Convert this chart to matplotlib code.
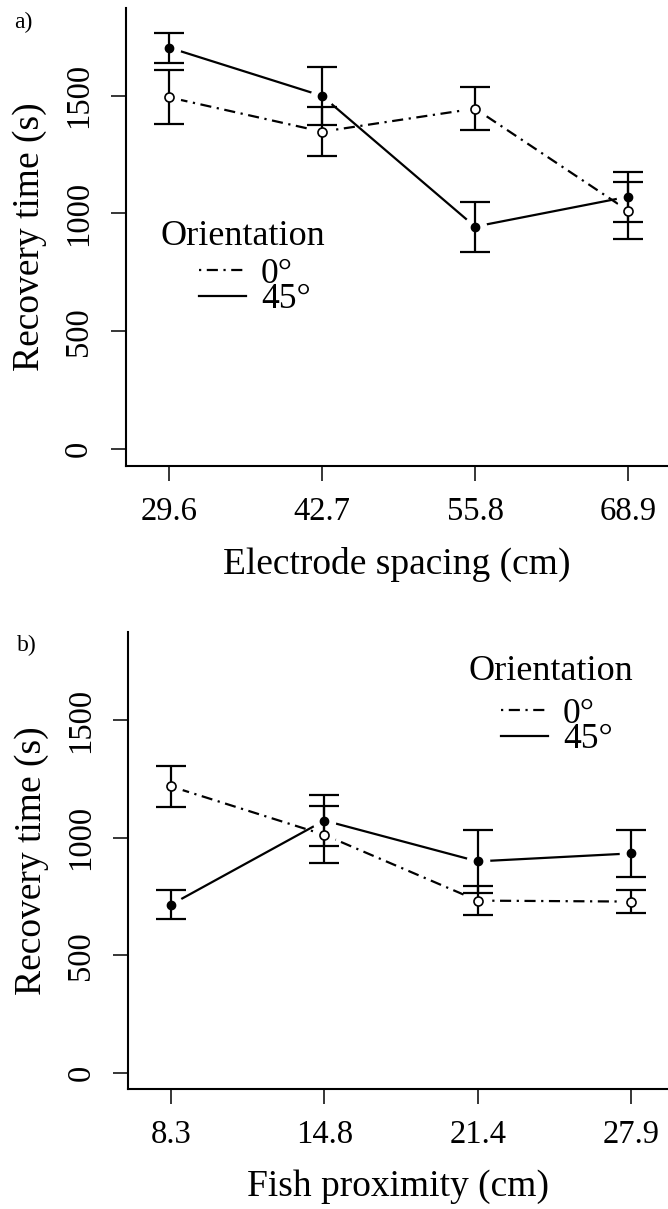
import matplotlib
matplotlib.use("Agg")
import matplotlib.pyplot as plt
from matplotlib.lines import Line2D

plt.rcParams['font.family'] = ['Liberation Serif', 'DejaVu Serif']

# ---- data ----
spacing_labels = ["29.6", "42.7", "55.8", "68.9"]
spacing_0_mean = [1493, 1347, 1445, 1012]
spacing_0_err = [114, 105, 92, 120]
spacing_45_mean = [1704, 1499, 944, 1071]
spacing_45_err = [64, 124, 106, 107]

prox_labels = ["8.3", "14.8", "21.4", "27.9"]
prox_0_mean = [1219, 1013, 733, 729]
prox_0_err = [89, 121, 63, 49]
prox_45_mean = [716, 1074, 900, 934]
prox_45_err = [61, 107, 134, 99]

yticks = [0, 500, 1000, 1500]

W, H = 668, 1209
fig = plt.figure(figsize=(W / 100, H / 100), dpi=100)

LW = 1.6
dashdot = (0, (1, 2.5, 5, 2.5))


def panel(rect, xlim, ylim, labels, m0, e0, m45, e45, xlabel, legend_anchor, title_pos):
    ax = fig.add_axes(rect)
    x = list(range(1, len(labels) + 1))
    # lines
    ax.plot(x, m0, color='black', lw=LW, linestyle=dashdot, zorder=1)
    ax.plot(x, m45, color='black', lw=LW, linestyle='-', zorder=1)
    # gaps around points (R type="b")
    ax.plot(x, m0, linestyle='none', marker='o', ms=17, mfc='white', mec='none', zorder=2)
    ax.plot(x, m45, linestyle='none', marker='o', ms=17, mfc='white', mec='none', zorder=2)
    # error bars
    ax.errorbar(x, m0, yerr=e0, fmt='none', ecolor='black', elinewidth=LW,
                capsize=11, capthick=LW, zorder=3)
    ax.errorbar(x, m45, yerr=e45, fmt='none', ecolor='black', elinewidth=LW,
                capsize=11, capthick=LW, zorder=3)
    # points
    ax.plot(x, m0, linestyle='none', marker='o', ms=6.5, mfc='white', mec='black',
            mew=1.2, zorder=4)
    ax.plot(x, m45, linestyle='none', marker='o', ms=6, mfc='black', mec='black',
            zorder=4)

    ax.set_xlim(*xlim)
    ax.set_ylim(*ylim)
    ax.set_xticks(x)
    ax.set_xticklabels(labels)
    ax.set_yticks(yticks)
    ax.set_yticklabels([str(v) for v in yticks], rotation=90, va='center')
    for s in ['top', 'right']:
        ax.spines[s].set_visible(False)
    for s in ['left', 'bottom']:
        ax.spines[s].set_linewidth(1.5)
    ax.tick_params(axis='both', direction='out', length=11, width=1.1,
                   labelsize=23.5)
    ax.tick_params(axis='x', pad=11)
    ax.tick_params(axis='y', pad=12)
    ax.set_xlabel(xlabel, fontsize=27, labelpad=14)
    ax.set_ylabel("Recovery time (s)", fontsize=27, labelpad=12)

    handles = [Line2D([], [], color='black', lw=LW, linestyle=dashdot),
               Line2D([], [], color='black', lw=LW, linestyle='-')]
    ax.legend(handles, ["0°", "45°"], frameon=False,
              fontsize=25.5, handlelength=1.33,
              handletextpad=0.42, labelspacing=-0.2,
              loc='center left', bbox_to_anchor=legend_anchor,
              bbox_transform=fig.transFigure, borderpad=0, borderaxespad=0)
    fig.text(title_pos[0], title_pos[1], "Orientation", fontsize=26,
             ha='left', va='baseline')
    return ax


axa = panel([126 / W, 1 - 466 / H, (W - 126) / W, 458 / H], (0.719, 4.261), (-72, 1872),
            spacing_labels, spacing_0_mean, spacing_0_err, spacing_45_mean, spacing_45_err,
            "Electrode spacing (cm)", (199 / W, 1 - 287 / H), (160 / W, 1 - 245 / H))
axb = panel([128.3 / W, 1 - 1089.3 / H, (W - 128.3) / W, 457 / H], (0.7215, 4.241), (-70, 1875),
            prox_labels, prox_0_mean, prox_0_err, prox_45_mean, prox_45_err,
            "Fish proximity (cm)", (501 / W, 1 - 727 / H), (469 / W, 1 - 680 / H))

fig.text(14 / W, 1 - 22 / H, "a)", fontsize=17, ha='left', va='center')
fig.text(17 / W, 1 - 645 / H, "b)", fontsize=17, ha='left', va='center')

fig.savefig("out.png", dpi=100)
